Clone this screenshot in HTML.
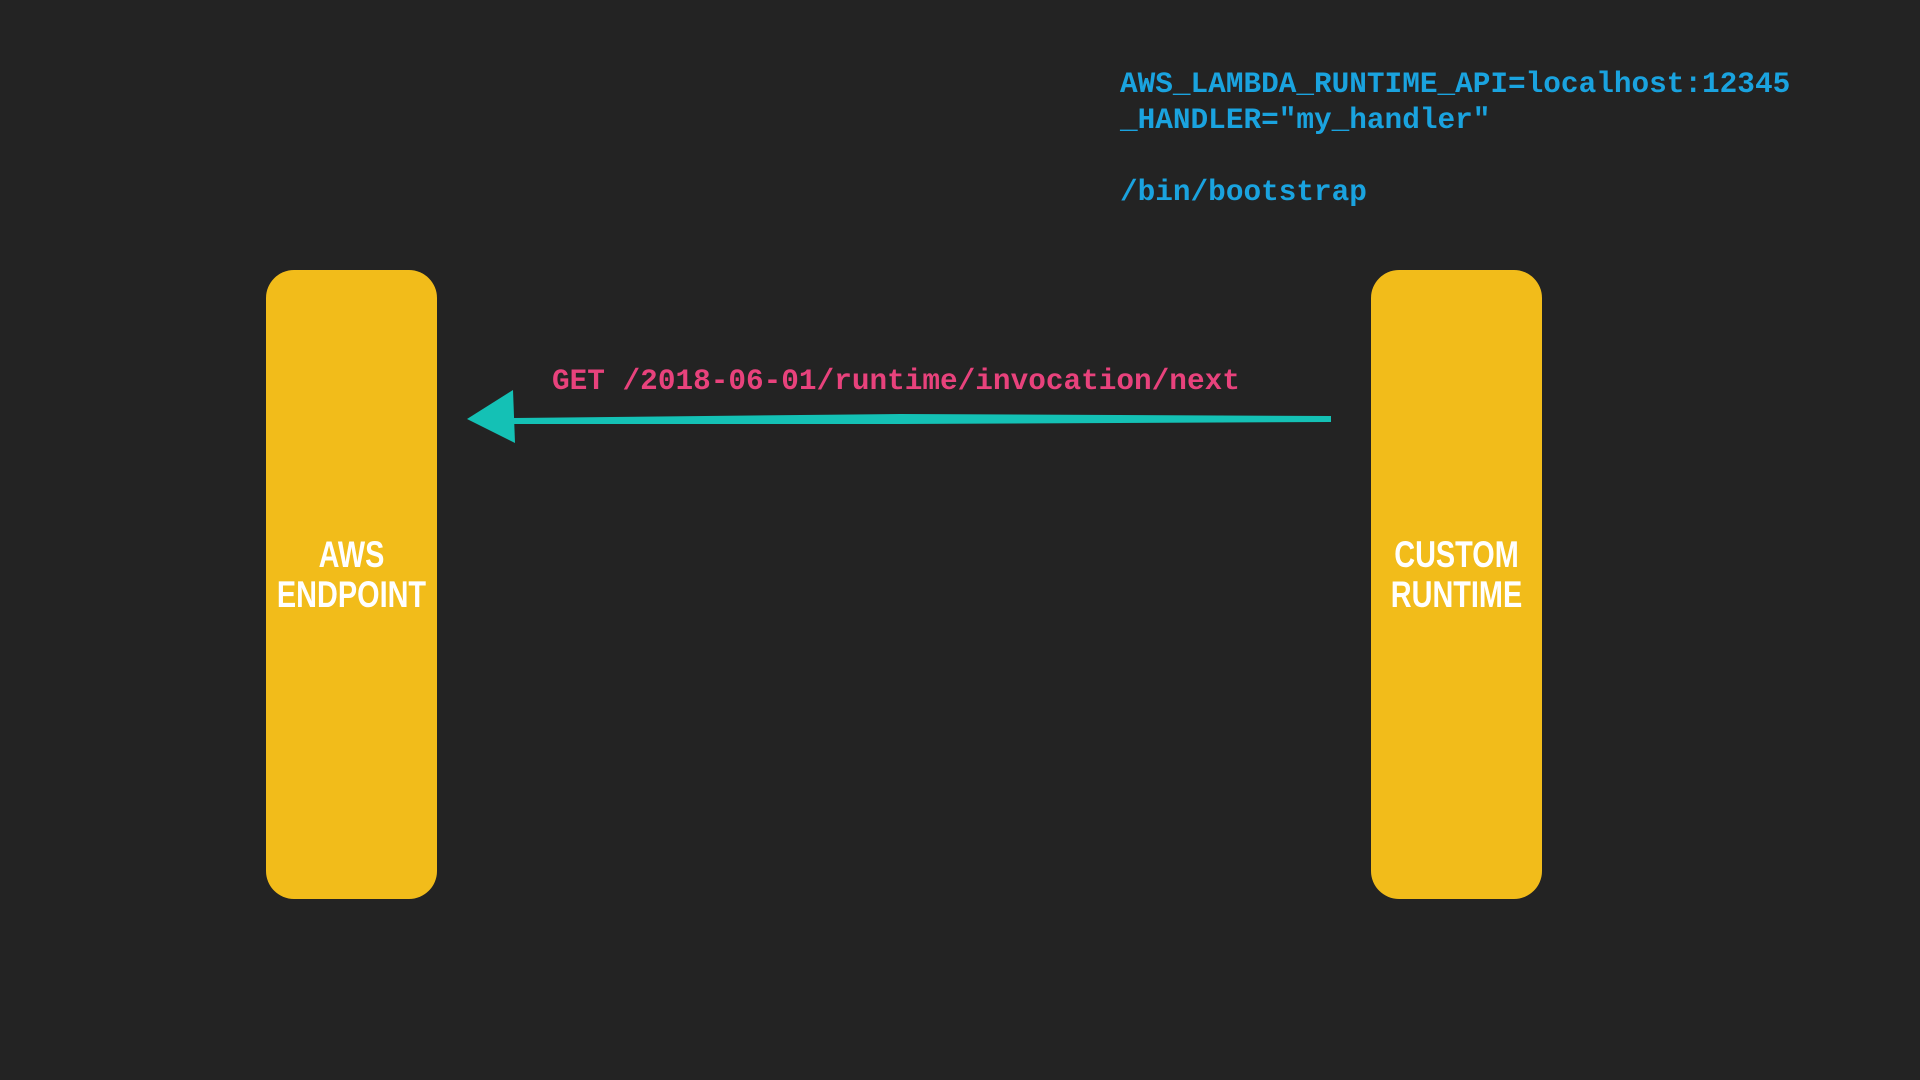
<!DOCTYPE html>
<html><head><meta charset="utf-8"><style>
html,body{margin:0;padding:0}
body{width:1920px;height:1080px;background:#232323;position:relative;overflow:hidden}
.mono{position:absolute;font-family:"Liberation Mono",monospace;font-weight:bold;font-size:29.4px;white-space:pre;line-height:1}
.box{position:absolute;background:#f2bc1a;border-radius:28px;top:270px;height:629px;width:171px}
.lbl{position:absolute;left:-40px;right:-40px;top:265px;text-align:center;color:#fff;font-family:"Liberation Sans Narrow","Liberation Sans",sans-serif;font-weight:bold;font-size:37px;line-height:40px;transform:scaleX(0.78)}
</style></head><body>
<div class="mono" style="left:1120px;top:70px;color:#1aa3df">AWS_LAMBDA_RUNTIME_API=localhost:12345</div>
<div class="mono" style="left:1120px;top:106px;color:#1aa3df">_HANDLER="my_handler"</div>
<div class="mono" style="left:1120px;top:178px;color:#1aa3df">/bin/bootstrap</div>
<div class="box" style="left:266px"><div class="lbl">AWS<br>ENDPOINT</div></div>
<div class="box" style="left:1371px"><div class="lbl">CUSTOM<br>RUNTIME</div></div>
<div class="mono" style="left:552px;top:367px;color:#e8427c">GET /2018-06-01/runtime/invocation/next</div>
<svg style="position:absolute;left:0;top:0" width="1920" height="1080">
<path d="M1331 416 L900 414 L514 418 L514 424 L900 424 L1331 422 Z" fill="#14c1b5"/>
<path d="M467 419 L513 390 L515 443 Z" fill="#14c1b5"/>
</svg>
</body></html>
